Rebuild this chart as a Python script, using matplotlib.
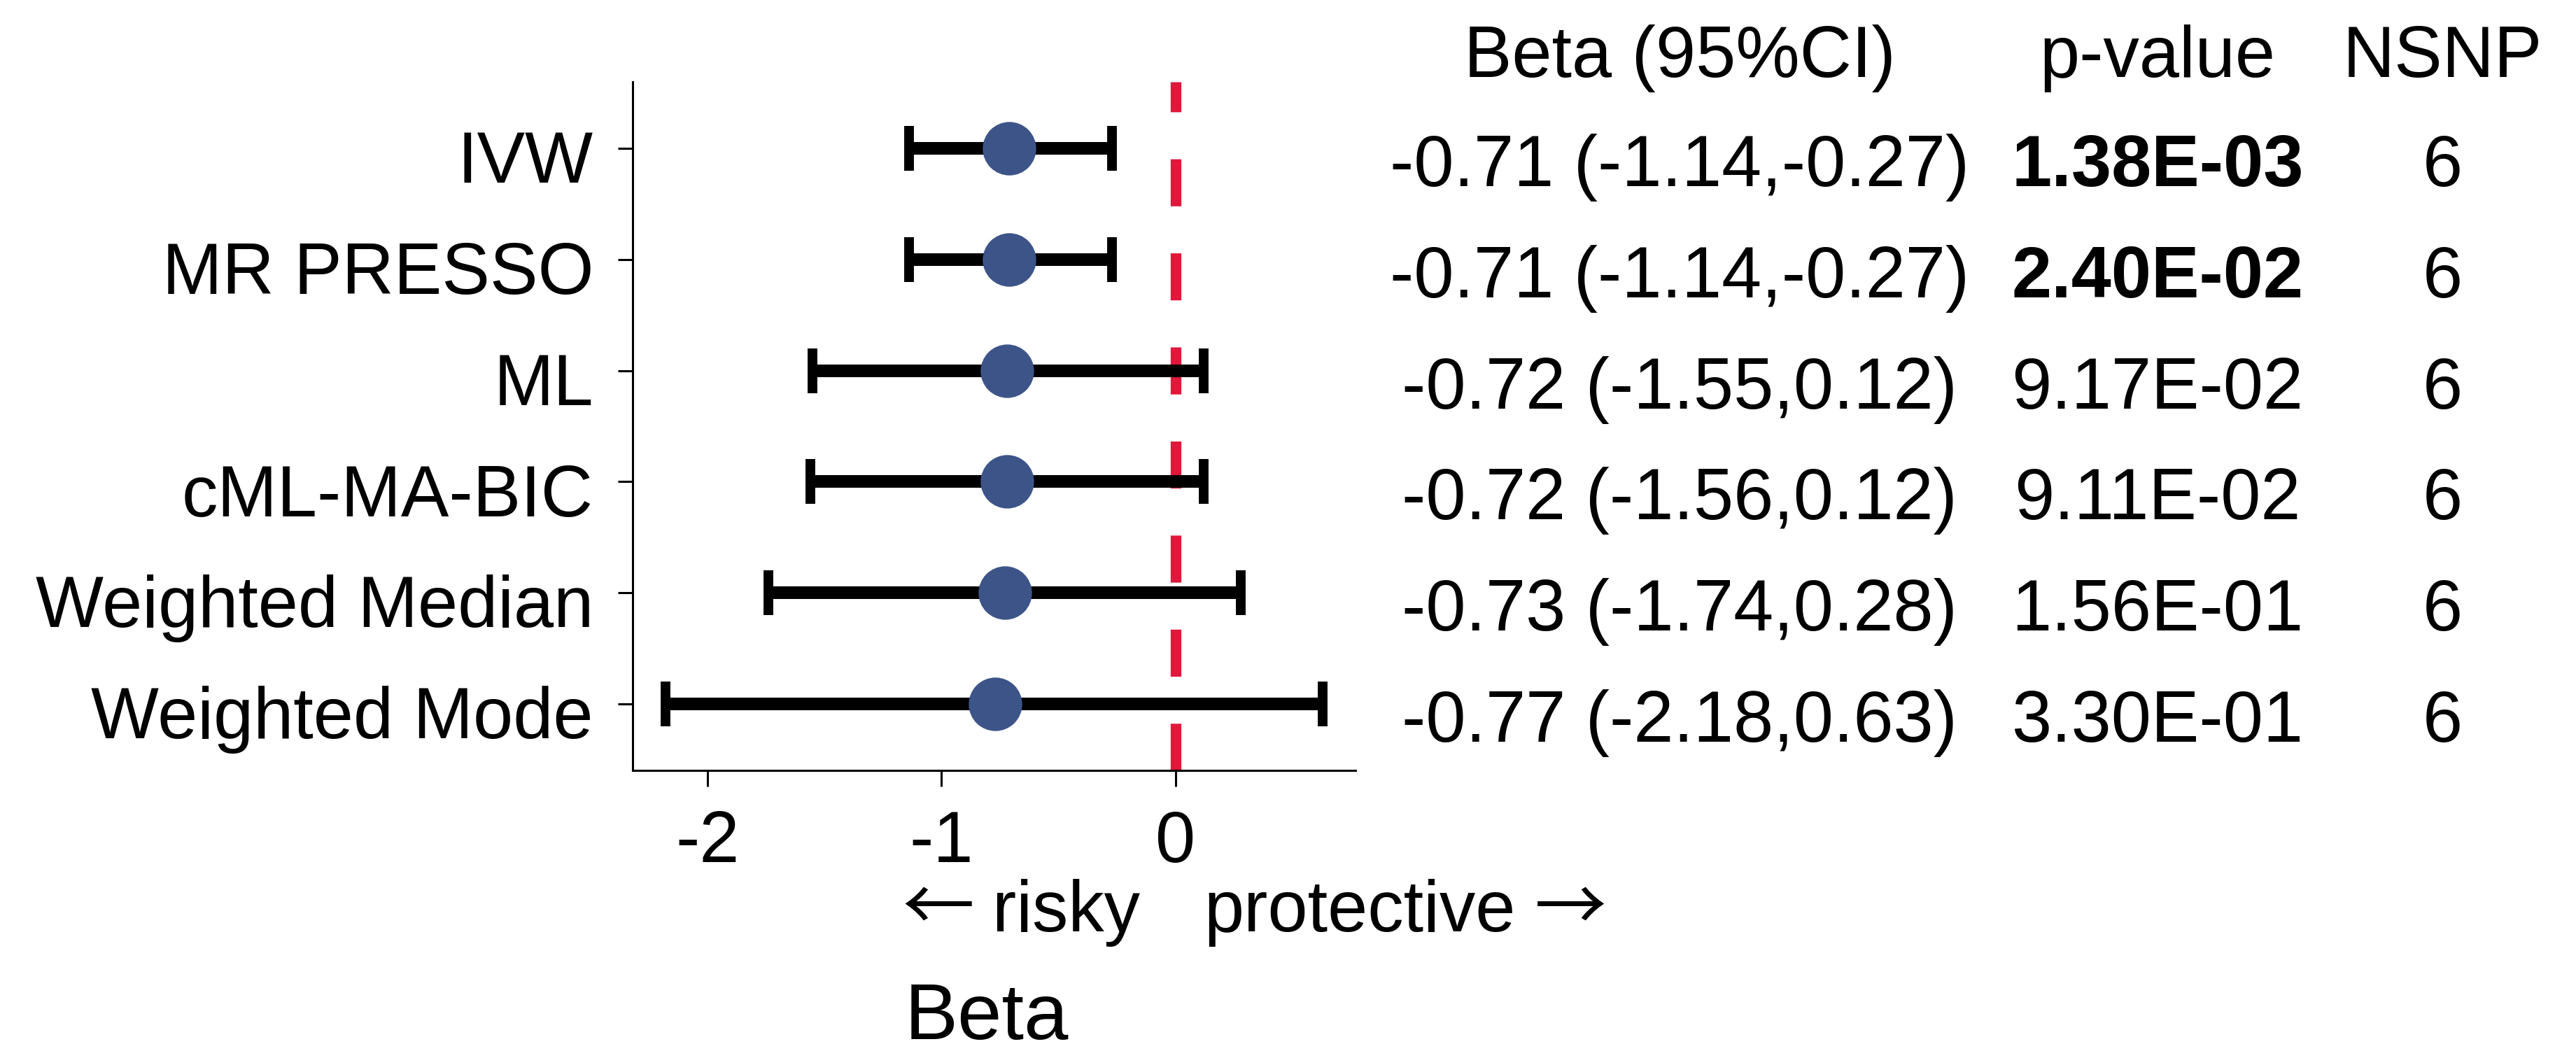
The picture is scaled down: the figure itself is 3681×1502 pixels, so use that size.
import numpy as np
import matplotlib.pyplot as plt
from matplotlib.transforms import blended_transform_factory

plt.rcParams['font.family'] = ['Liberation Sans', 'DejaVu Sans']
plt.rcParams['axes.unicode_minus'] = False

# MR estimates per method
methods = ['IVW', 'MR PRESSO', 'ML', 'cML-MA-BIC', 'Weighted Median', 'Weighted Mode']
beta = np.array([-0.71, -0.71, -0.72, -0.72, -0.73, -0.77])
ci_low = np.array([-1.14, -1.14, -1.55, -1.56, -1.74, -2.18])
ci_high = np.array([-0.27, -0.27, 0.12, 0.12, 0.28, 0.63])
pvals = ['1.38E-03', '2.40E-02', '9.17E-02', '9.11E-02', '1.56E-01', '3.30E-01']
nsnp = [6, 6, 6, 6, 6, 6]

fs = 74
W, H = 3681, 1502
fig = plt.figure(figsize=(W / 100, H / 100), dpi=100)
ax = fig.add_axes([904 / W, 1 - 1101 / H, 1033 / W, 984 / H])

y = np.arange(len(methods), 0, -1)

# reference line at 0
ax.axvline(0, color='#E3163B', lw=11, linestyle=(0, (4.4, 4.4)), zorder=1)

ax.errorbar(beta, y, xerr=[beta - ci_low, ci_high - beta], fmt='none',
            ecolor='black', elinewidth=13, capsize=23, capthick=10, zorder=2)
ax.plot(beta, y, 'o', ms=55, color='#3C5488', mec='none', zorder=3)

rng = ci_high.max() - ci_low.min()
ax.set_xlim(ci_low.min() - 0.05 * rng, ci_high.max() + 0.05 * rng)
ax.set_ylim(0.4, len(methods) + 0.6)
ax.set_xticks([-2, -1, 0])
ax.set_yticks(y)
ax.set_yticklabels([])
for s in ['top', 'right']:
    ax.spines[s].set_visible(False)
for s in ['left', 'bottom']:
    ax.spines[s].set_linewidth(2.2)
ax.tick_params(axis='both', labelsize=fs, width=2.2, colors='black')
ax.tick_params(axis='x', length=16.5, pad=24)
ax.tick_params(axis='y', length=15)

# method names
tl = blended_transform_factory(fig.transFigure, ax.transData)
for yi, m in zip(y, methods):
    ax.text(848 / W, yi - 0.31, m, transform=tl, ha='right', va='baseline', fontsize=fs)

# direction labels and axis title
yb = 1 - 1331 / H
fig.text(1289 / W, yb, '\u2190', ha='left', va='baseline', fontsize=fs, family='Noto Sans CJK JP')
fig.text(1629 / W, yb, 'risky', ha='right', va='baseline', fontsize=fs)
fig.text(1720 / W, yb, 'protective', ha='left', va='baseline', fontsize=fs)
fig.text(2296 / W, yb, '\u2192', ha='right', va='baseline', fontsize=fs, family='Noto Sans CJK JP')
fig.text(1410 / W, 1 - 1485 / H, 'Beta', ha='center', va='baseline', fontsize=82)

# table on the right
col_beta, col_p, col_n = 2400 / W, 3083 / W, 3490 / W
head_y = 1 - 110 / H
fig.text(col_beta, head_y, 'Beta (95%CI)', ha='center', va='baseline', fontsize=fs)
fig.text(col_p, head_y, 'p-value', ha='center', va='baseline', fontsize=fs)
fig.text(col_n, head_y, 'NSNP', ha='center', va='baseline', fontsize=fs)

for yi, b, lo, hi, p, n in zip(y, beta, ci_low, ci_high, pvals, nsnp):
    yt = yi - 0.34
    ax.text(col_beta, yt, f'{b:.2f} ({lo:.2f},{hi:.2f})', transform=tl,
            ha='center', va='baseline', fontsize=fs)
    ax.text(col_p, yt, p, transform=tl, ha='center', va='baseline', fontsize=fs,
            fontweight='bold' if float(p) < 0.05 else 'normal')
    ax.text(col_n, yt, str(n), transform=tl, ha='center', va='baseline', fontsize=fs)

fig.savefig('out.png', dpi=100, facecolor='white')
